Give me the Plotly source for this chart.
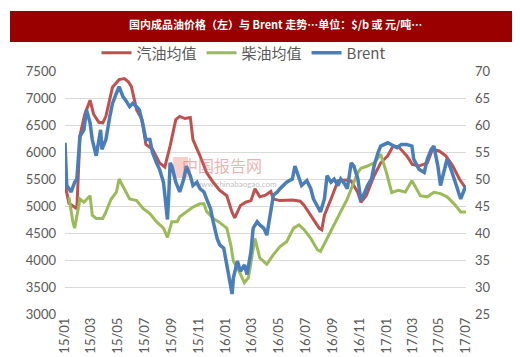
import plotly.graph_objects as go

# ---------------- data ----------------
gas_dates = ["2015-01-01","2015-01-04","2015-01-10","2015-01-19","2015-01-28","2015-02-04","2015-02-15","2015-02-27",
             "2015-03-07","2015-03-19","2015-03-28","2015-04-04","2015-04-19","2015-05-04","2015-05-16","2015-05-25",
             "2015-06-01","2015-06-13","2015-06-25","2015-07-04","2015-07-19","2015-08-04","2015-08-16","2015-08-28",
             "2015-09-10","2015-09-19","2015-10-01","2015-10-13","2015-10-19","2015-11-04","2015-11-19","2015-12-04",
             "2015-12-19","2016-01-04","2016-01-16","2016-01-22","2016-02-04","2016-02-16","2016-02-28","2016-03-08",
             "2016-03-19","2016-04-01","2016-04-13","2016-04-19","2016-05-04","2016-06-01","2016-06-19","2016-06-28",
             "2016-07-13","2016-08-01","2016-08-07","2016-08-13","2016-08-28","2016-09-13","2016-10-01","2016-10-13",
             "2016-10-28","2016-11-04","2016-11-16","2016-12-04","2016-12-19","2017-01-04","2017-01-16","2017-01-28",
             "2017-02-16","2017-03-01","2017-03-16","2017-04-04","2017-04-16","2017-05-01","2017-05-16","2017-06-01",
             "2017-06-16","2017-07-01"]
gas_values = [5400,5300,5050,5000,4950,6300,6700,6960,
              6700,6550,6540,6660,7200,7340,7360,7300,
              7210,6780,6600,6140,6050,5800,5720,6110,
              6600,6660,6620,6640,6230,5930,5620,5440,
              5290,5190,4880,4780,5010,5070,5100,5320,
              5170,5200,5270,5130,5100,5110,5090,5010,
              4830,4590,4560,4830,5130,5470,5480,5460,
              5250,5070,5190,5560,5800,5930,6110,6100,
              5930,5770,5740,5800,6050,6020,5930,5740,
              5500,5320]

diesel_dates = ["2015-01-10","2015-01-13","2015-01-19","2015-01-23","2015-02-04","2015-02-13","2015-02-27","2015-03-04",
                "2015-03-13","2015-03-28","2015-04-04","2015-04-16","2015-04-28","2015-05-04","2015-05-16","2015-05-28",
                "2015-06-13","2015-06-28","2015-07-13","2015-07-28","2015-08-13","2015-08-22","2015-09-01","2015-09-13",
                "2015-09-19","2015-10-04","2015-10-19","2015-11-04","2015-11-13","2015-11-19","2015-12-04","2015-12-16",
                "2016-01-04","2016-01-13","2016-01-19","2016-02-01","2016-02-13","2016-02-22","2016-03-04","2016-03-08",
                "2016-03-19","2016-04-04","2016-04-19","2016-05-04","2016-05-19","2016-06-04","2016-06-16","2016-06-28",
                "2016-07-13","2016-07-28","2016-08-04","2016-08-19","2016-09-04","2016-09-19","2016-10-04","2016-10-16",
                "2016-10-28","2016-11-04","2016-11-19","2016-12-04","2016-12-19","2017-01-01","2017-01-13","2017-01-28",
                "2017-02-13","2017-02-28","2017-03-10","2017-03-19","2017-04-04","2017-04-19","2017-05-04","2017-05-19",
                "2017-06-04","2017-06-19","2017-07-01"]
diesel_values = [5160,5010,4700,4590,5130,5070,5190,4830,
                 4770,4770,4890,5130,5255,5500,5320,5130,
                 5100,4950,4860,4710,4590,4420,4710,4710,
                 4800,4890,4980,5040,5040,4900,4770,4710,
                 4590,4280,3975,3790,3580,3670,4160,4400,
                 4040,3920,4100,4250,4340,4590,4650,4560,
                 4400,4190,4160,4400,4650,4890,5130,5380,
                 5620,5700,5740,5800,5960,5620,5250,5290,
                 5260,5470,5320,5190,5170,5255,5230,5170,
                 5040,4890,4890]

brent_dates = ["2015-01-01","2015-01-03","2015-01-05","2015-01-15","2015-01-23","2015-01-28","2015-02-01","2015-02-04",
               "2015-02-13","2015-02-19","2015-02-27","2015-03-04","2015-03-13","2015-03-16","2015-03-23","2015-03-26",
               "2015-04-04","2015-04-13","2015-04-19","2015-04-28","2015-05-04","2015-05-13","2015-05-19","2015-05-28",
               "2015-06-04","2015-06-13","2015-06-19","2015-06-28","2015-07-04","2015-07-13","2015-07-19","2015-07-28",
               "2015-08-04","2015-08-13","2015-08-16","2015-08-19","2015-08-22","2015-08-25","2015-08-28","2015-09-01",
               "2015-09-10","2015-09-19","2015-09-28","2015-10-04","2015-10-13","2015-10-19","2015-10-28","2015-11-04",
               "2015-11-13","2015-11-19","2015-11-28","2015-12-04","2015-12-13","2015-12-19","2015-12-28","2016-01-04",
               "2016-01-13","2016-01-16","2016-01-19","2016-01-28","2016-02-04","2016-02-13","2016-02-19","2016-02-28",
               "2016-03-04","2016-03-13","2016-03-19","2016-03-28","2016-04-04","2016-04-13","2016-04-19","2016-04-28",
               "2016-05-04","2016-05-19","2016-06-01","2016-06-07","2016-06-16","2016-06-22","2016-07-04","2016-07-13",
               "2016-07-19","2016-07-28","2016-08-04","2016-08-13","2016-08-19","2016-08-28","2016-09-04","2016-09-13",
               "2016-09-19","2016-09-28","2016-10-04","2016-10-13","2016-10-19","2016-10-28","2016-11-04","2016-11-13",
               "2016-11-19","2016-11-28","2016-12-04","2016-12-13","2016-12-19","2017-01-04","2017-01-16","2017-01-25",
               "2017-02-04","2017-02-16","2017-02-28","2017-03-04","2017-03-16","2017-03-28","2017-04-04","2017-04-13",
               "2017-04-19","2017-04-28","2017-05-04","2017-05-13","2017-05-19","2017-05-28","2017-06-04","2017-06-13",
               "2017-06-19","2017-06-28","2017-07-01"]
brent_values = [56.7,50.6,48.8,47.6,49.4,50.0,55.5,57.9,
                59.1,62.8,60.4,57.3,54.3,55.5,59.1,55.5,
                57.3,61.6,64.0,65.9,67.1,65.2,64.6,63.4,
                64.0,63.4,62.8,59.8,57.3,57.3,54.9,53.0,
                51.8,49.4,47.5,44.5,42.5,47.0,53.0,52.4,
                49.4,47.6,50.0,52.4,50.6,48.8,49.4,48.2,
                47.6,46.3,44.5,42.1,39.0,37.8,37.2,34.1,
                30.5,28.7,31.7,34.8,32.9,34.1,32.3,36.6,
                40.9,42.1,41.5,40.9,39.6,43.9,47.0,47.6,
                48.2,49.4,50.0,52.4,50.0,48.8,49.7,48.2,
                46.3,45.1,43.9,46.3,50.6,49.4,50.0,48.8,
                50.0,49.1,48.2,53.0,52.4,50.0,46.0,47.6,
                48.8,50.0,52.4,54.9,56.1,56.7,56.1,55.8,
                56.4,56.4,56.1,53.7,51.8,51.2,53.7,55.5,
                56.1,52.4,48.8,51.8,53.7,51.8,50.0,48.2,
                46.3,48.2,48.8]

series_names = ["汽油均值", "柴油均值", "Brent"]
left_ticks = [3000, 3500, 4000, 4500, 5000, 5500, 6000, 6500, 7000, 7500]
right_ticks = [25, 30, 35, 40, 45, 50, 55, 60, 65, 70]
title_text = "国内成品油价格（左）与 Brent 走势…单位：$/b 或 元/吨…"

# ---------------- figure ----------------
FONT = "Lato, Noto Sans CJK SC, sans-serif"
CJK = "Noto Sans CJK SC, sans-serif"
GRAY = "#595959"

fig = go.Figure()
fig.add_trace(go.Scatter(x=gas_dates, y=gas_values, name=series_names[0], mode="lines",
                         line=dict(color="#C0504D", width=3)))
fig.add_trace(go.Scatter(x=diesel_dates, y=diesel_values, name=series_names[1], mode="lines",
                         line=dict(color="#9BBB59", width=3)))
fig.add_trace(go.Scatter(x=brent_dates, y=brent_values, name=series_names[2], mode="lines",
                         yaxis="y2", line=dict(color="#4A7EBB", width=3.5)))

L, R, T, B = 57, 62, 63, 51
W, H = 520, 357
pw, ph = W - L - R, H - T - B

def px(x):
    return (x - L) / pw

def py(y):
    return (H - B - y) / ph

fig.update_layout(
    width=W, height=H,
    margin=dict(l=L, r=R, t=T, b=B),
    paper_bgcolor="white", plot_bgcolor="white",
    font=dict(family=FONT, color=GRAY, size=13),
    showlegend=True,
    legend=dict(orientation="h", x=px(236), xanchor="center", y=py(45), yanchor="middle",
                font=dict(family=CJK, size=15, color=GRAY), bgcolor="rgba(0,0,0,0)",
                itemwidth=30, tracegroupgap=0),
    xaxis=dict(type="date", range=["2015-01-01", "2017-07-01"], tick0="2015-01-01", dtick="M2",
               tickformat="%y/%m", tickangle=-90, showgrid=False, zeroline=False, showline=False,
               ticks="", tickfont=dict(size=13, color=GRAY)),
    yaxis=dict(range=[3000, 7500], tickvals=left_ticks, showgrid=True, gridcolor="#D9D9D9",
               gridwidth=1, zeroline=False, showline=False, ticks="", ticklabelstandoff=8,
               tickfont=dict(size=13, color=GRAY)),
    yaxis2=dict(range=[25, 70], tickvals=right_ticks, overlaying="y", side="right", showgrid=False,
                zeroline=False, showline=False, ticks="", ticklabelstandoff=8,
                tickfont=dict(size=13, color=GRAY)),
    shapes=[
        dict(type="rect", xref="paper", yref="paper", x0=px(2), x1=px(517), y0=py(34), y1=py(3),
             fillcolor="#9A0000", line=dict(width=0), layer="above"),
        dict(type="rect", xref="paper", yref="paper", x0=px(165), x1=px(180), y0=py(170), y1=py(149),
             fillcolor="rgba(230,120,110,0.35)", line=dict(width=0), layer="below"),
    ],
    annotations=[
        dict(text="<b>" + title_text + "</b>", xref="paper", yref="paper", x=px(267), y=py(16),
             xanchor="center", yanchor="middle", showarrow=False,
             font=dict(family=CJK, size=11, color="white")),
        dict(text="中国报告网", xref="paper", yref="paper", x=px(214), y=py(157),
             xanchor="center", yanchor="middle", showarrow=False,
             font=dict(family=CJK, size=16, color="rgba(225,100,100,0.5)")),
        dict(text="www.chinabaogao.com", xref="paper", yref="paper", x=px(228), y=py(176),
             xanchor="center", yanchor="middle", showarrow=False,
             font=dict(family=FONT, size=8, color="rgba(120,120,120,0.5)")),
    ],
)

fig.write_html("out.html")
